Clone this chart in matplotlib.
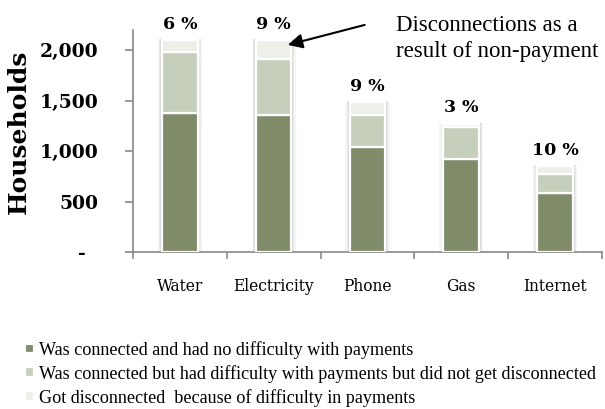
import matplotlib.pyplot as plt
import numpy as np
from matplotlib.ticker import FuncFormatter

# Households per utility
categories = ["Water", "Electricity", "Phone", "Gas", "Internet"]
no_difficulty = [1380, 1360, 1040, 925, 580]
difficulty_connected = [600, 555, 320, 310, 190]
disconnected = [120, 185, 130, 38, 85]
pct_labels = ["6 %", "9 %", "9 %", "3 %", "10 %"]
series_names = ["Was connected and had no difficulty with payments",
                "Was connected but had difficulty with payments but did not get disconnected",
                "Got disconnected  because of difficulty in payments"]

colors = ["#808c69", "#c6cfbc", "#edf0e8"]
serif = "DejaVu Serif"

fig = plt.figure(figsize=(6.05, 4.09), dpi=100)
ax = fig.add_axes([0.2198, 0.3839, 0.7752, 0.5428])

x = np.arange(len(categories))
width = 0.38
b1 = np.array(no_difficulty)
b2 = np.array(difficulty_connected)
b3 = np.array(disconnected)
totals = b1 + b2 + b3

# soft shadow behind each stacked bar
for k, a in [(0.09, 0.035), (0.06, 0.05), (0.035, 0.07)]:
    ax.bar(x, totals + 12, width=width + k, bottom=-6, color="black",
           alpha=a, linewidth=0, zorder=1)
ax.bar(x, totals, width=width + 0.02, color="white", linewidth=0, zorder=2)

bars = []
bottom = np.zeros(len(x))
for vals, c, name in zip([b1, b2, b3], colors, series_names):
    bars.append(ax.bar(x, vals, width=width, bottom=bottom, color=c,
                       edgecolor="white", linewidth=1.6, label=name, zorder=3))
    bottom = bottom + vals

for xi, t, lab in zip(x, totals, pct_labels):
    ax.text(xi, t + 70, lab, ha="center", va="bottom", fontsize=12.5,
            fontweight="bold", family=serif)

ax.set_xlim(-0.5, 4.5)
ax.set_ylim(0, 2200)
ax.set_yticks([0, 500, 1000, 1500, 2000])
ax.yaxis.set_major_formatter(FuncFormatter(
    lambda v, p: "-  " if v == 0 else f"{int(v):,}"))
for lbl in ax.get_yticklabels():
    lbl.set_family(serif)
    lbl.set_fontweight("bold")
ax.tick_params(axis="y", labelsize=13.5, length=6, color="#888888",
               width=1.2, pad=19)

ax.set_xticks(x)
ax.set_xticklabels(categories, family=serif, fontsize=11.2)
ax.set_xticks(np.arange(-0.5, 5, 1), minor=True)
ax.tick_params(axis="x", which="major", length=0, pad=19)
ax.tick_params(axis="x", which="minor", length=5, color="#888888", width=1.2)

for s in ["top", "right"]:
    ax.spines[s].set_visible(False)
for s in ["left", "bottom"]:
    ax.spines[s].set_color("#888888")
    ax.spines[s].set_linewidth(1.2)

ax.set_ylabel("Households", family=serif, fontsize=18, fontweight="bold")
ax.yaxis.set_label_coords(-0.218, 0.54)

ax.annotate("", xy=(1.15, 2052), xytext=(1.97, 2250),
            annotation_clip=False,
            arrowprops=dict(arrowstyle="-|>", color="black", lw=1.5,
                            mutation_scale=22, shrinkA=0, shrinkB=0))
ax.text(2.30, 2115, "Disconnections as a\nresult of non-payment",
        ha="left", va="center", fontsize=16.5, family="Liberation Serif",
        linespacing=1.3, clip_on=False)

leg = fig.legend(handles=bars, labels=series_names, loc="upper left",
                 bbox_to_anchor=(0.03, 0.184), frameon=False,
                 prop={"family": "Liberation Serif", "size": 13.1},
                 handlelength=0.45, handleheight=0.45, handletextpad=0.3,
                 labelspacing=0.33, borderaxespad=0)

fig.savefig("out.png", dpi=100)
